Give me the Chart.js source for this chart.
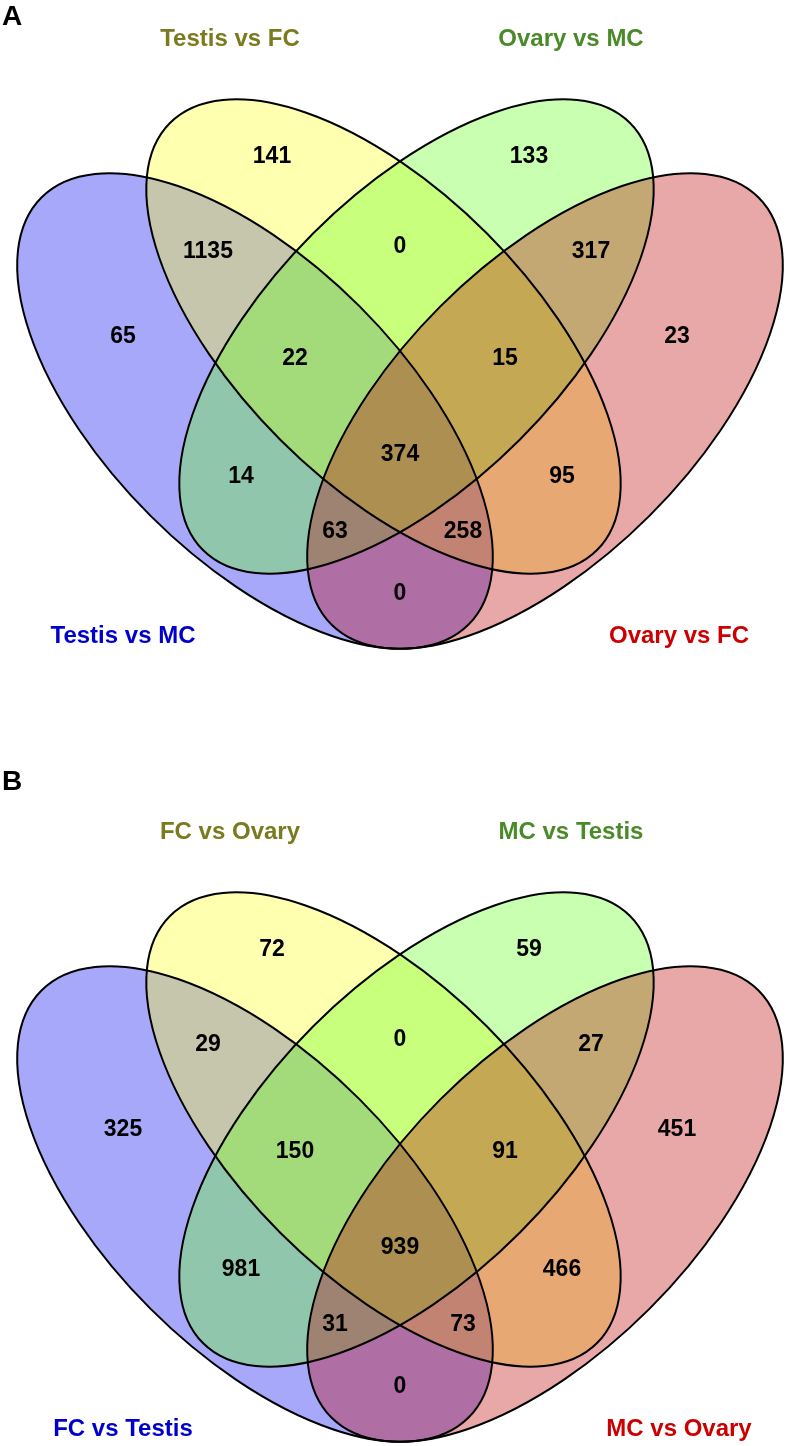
<!DOCTYPE html>
<html>
<head>
<meta charset="utf-8">
<script src="https://cdn.jsdelivr.net/npm/chart.js@4.4.1/dist/chart.umd.min.js"></script>
<style>
  body { margin: 0; background: #fff; }
  .panel { width: 789px; height: 723px; }
  canvas { display: block; }
</style>
</head>
<body>
<div class="panel"><canvas id="vennA" width="789" height="723"></canvas></div>
<div class="panel"><canvas id="vennB" width="789" height="723"></canvas></div>
<script>
  // regions: B = blue set, Y = yellow set, G = green set, R = red set
  const regions = ['Y', 'G', 'B', 'R', 'BY', 'GR', 'YG', 'BYG', 'YGR', 'BYGR', 'BG', 'YR', 'BGR', 'BYR', 'BR'];
  const countsA = [141, 133, 65, 23, 1135, 317, 0, 22, 15, 374, 14, 95, 63, 258, 0];
  const countsB = [72, 59, 325, 451, 29, 27, 0, 150, 91, 939, 981, 466, 31, 73, 0];

  // set names, in order blue, yellow, green, red
  const setsA = ['Testis vs MC', 'Testis vs FC', 'Ovary vs MC', 'Ovary vs FC'];
  const setsB = ['FC vs Testis', 'FC vs Ovary', 'MC vs Testis', 'MC vs Ovary'];

  // layout, in panel units (1 unit = 1 px)
  const regionPos = [
    [272, 155], [529, 155], [123, 335], [677, 335], [208, 250], [591, 250], [400, 245],
    [295, 357], [505, 357], [400, 453], [241, 475], [562, 475], [335, 530], [463, 530], [400, 592]
  ];
  const ellipses = [
    {x: 255, y: 411, a: 302, b: 148, rot: 45},
    {x: 383.5, y: 336.5, a: 302, b: 146, rot: 45},
    {x: 416.5, y: 336.5, a: 302, b: 146, rot: -45},
    {x: 545, y: 411, a: 302, b: 148, rot: -45}
  ];
  const setFill = ['rgba(6,6,241,0.35)', 'rgba(255,255,29,0.35)', 'rgba(98,255,29,0.35)', 'rgba(189,6,6,0.35)'];
  const setColor = ['#0000cc', '#7a7a1e', '#4a8a28', '#cc0000'];
  const setLabelPos = [[123, 634], [230, 37], [571, 37], [679, 634]];

  const FONT = "'Liberation Sans', Arial, sans-serif";

  function makeVenn(canvasId, counts, sets, letter, letterY, yMin) {
    const vennPlugin = {
      id: 'venn',
      beforeDatasetsDraw(chart) {
        const ctx = chart.ctx, xs = chart.scales.x, ys = chart.scales.y;
        const unit = Math.abs(xs.getPixelForValue(1) - xs.getPixelForValue(0));
        ctx.save();
        ellipses.forEach((e, i) => {
          ctx.beginPath();
          ctx.ellipse(xs.getPixelForValue(e.x), ys.getPixelForValue(e.y), e.a * unit, e.b * unit,
            e.rot * Math.PI / 180, 0, 2 * Math.PI);
          ctx.fillStyle = setFill[i];
          ctx.fill();
        });
        ctx.lineWidth = 2;
        ctx.strokeStyle = '#000';
        ellipses.forEach(e => {
          ctx.beginPath();
          ctx.ellipse(xs.getPixelForValue(e.x), ys.getPixelForValue(e.y), e.a * unit, e.b * unit,
            e.rot * Math.PI / 180, 0, 2 * Math.PI);
          ctx.stroke();
        });
        ctx.restore();
      },
      afterDatasetsDraw(chart) {
        const ctx = chart.ctx, xs = chart.scales.x, ys = chart.scales.y;
        ctx.save();
        ctx.textAlign = 'center';
        ctx.textBaseline = 'alphabetic';

        ctx.fillStyle = '#000';
        ctx.font = 'bold 23px ' + FONT;
        chart.getDatasetMeta(0).data.forEach((pt, i) => {
          ctx.fillText(String(counts[i]), pt.x, pt.y + 8.3);
        });

        ctx.font = 'bold 24px ' + FONT;
        sets.forEach((name, i) => {
          ctx.fillStyle = setColor[i];
          ctx.fillText(name, xs.getPixelForValue(setLabelPos[i][0]), ys.getPixelForValue(setLabelPos[i][1]) + 8.6);
        });

        ctx.fillStyle = '#000';
        ctx.textAlign = 'left';
        ctx.font = 'bold 28px ' + FONT;
        ctx.fillText(letter, xs.getPixelForValue(2), ys.getPixelForValue(letterY));
        ctx.restore();
      }
    };

    return new Chart(document.getElementById(canvasId), {
      type: 'scatter',
      data: {
        datasets: [{
          data: regionPos.map(p => ({x: p[0], y: p[1]})),
          pointRadius: 0,
          pointHoverRadius: 0
        }]
      },
      options: {
        responsive: false,
        animation: false,
        events: [],
        layout: { padding: 0 },
        scales: {
          x: { type: 'linear', min: 0, max: 789, display: false },
          y: { type: 'linear', min: yMin, max: yMin + 723, reverse: true, display: false }
        },
        plugins: {
          legend: { display: false },
          tooltip: { enabled: false }
        }
      },
      plugins: [vennPlugin]
    });
  }

  makeVenn('vennA', countsA, setsA, 'A', 25, 0);
  makeVenn('vennB', countsB, setsB, 'B', -3, -70);
</script>
</body>
</html>
